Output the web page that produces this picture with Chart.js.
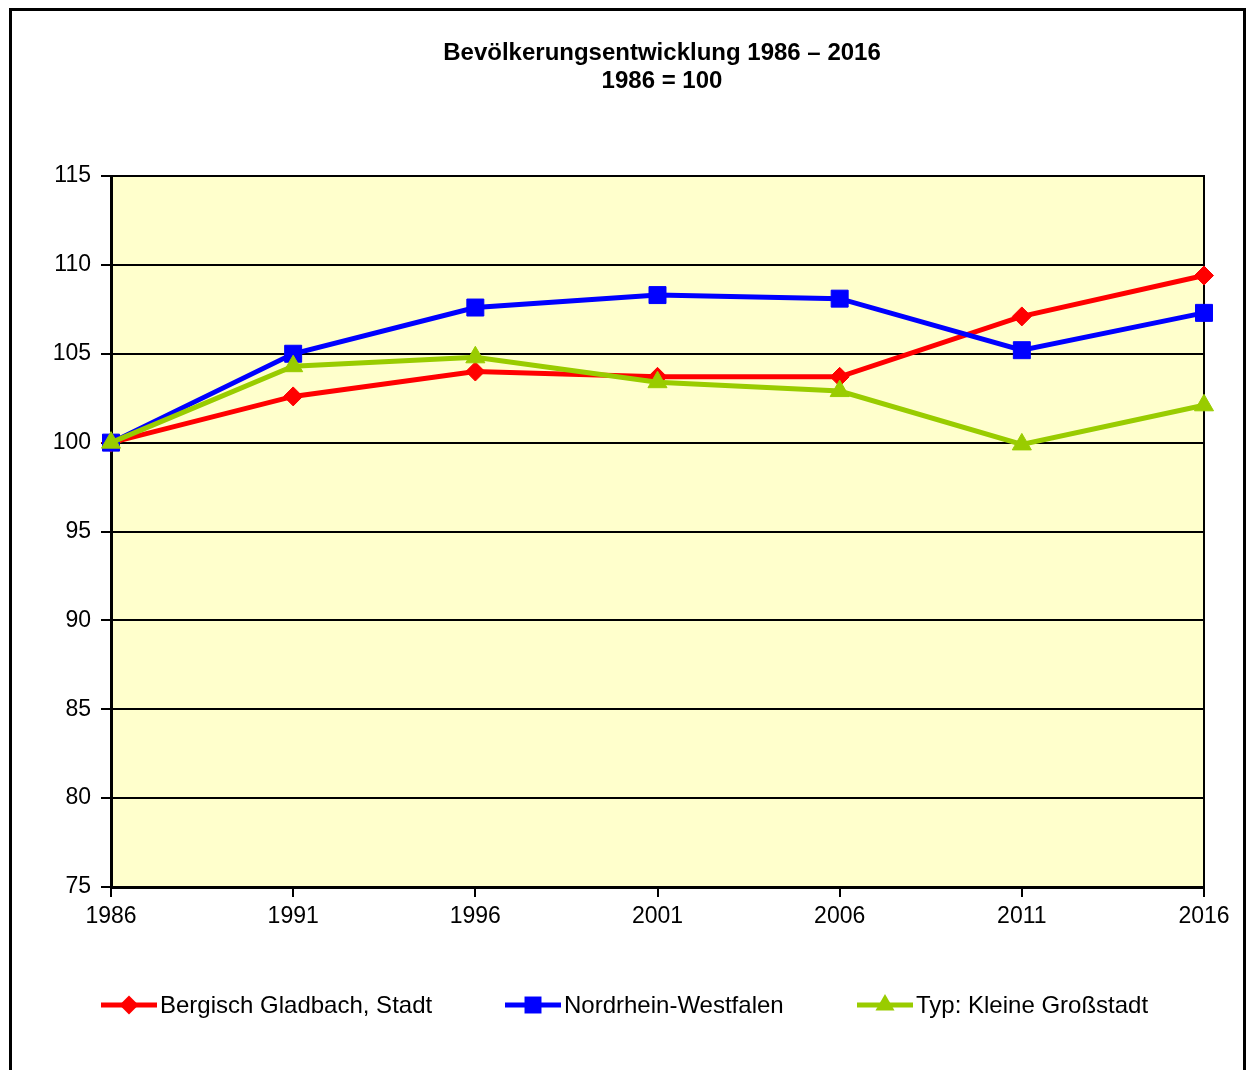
<!DOCTYPE html>
<html>
<head>
<meta charset="utf-8">
<script src="https://cdn.jsdelivr.net/npm/chart.js@4/dist/chart.umd.min.js"></script>
<style>
  html, body { margin: 0; padding: 0; background: #fff; }
  #wrap { position: relative; width: 1249px; height: 1070px; }
</style>
</head>
<body>
<div id="wrap"><canvas id="chart" width="1249" height="1070"></canvas></div>
<script>
// Daten (1986 = 100)
const years = ['1986', '1991', '1996', '2001', '2006', '2011', '2016'];
const bergischGladbach = [100, 102.6, 104.0, 103.7, 103.7, 107.1, 109.4];
const nrw = [100, 105.0, 107.6, 108.3, 108.1, 105.2, 107.3];
const kleineGrossstadt = [100, 104.3, 104.8, 103.4, 102.9, 99.9, 102.1];

const seriesNames = ['Bergisch Gladbach, Stadt', 'Nordrhein-Westfalen', 'Typ: Kleine Großstadt'];
const titleLines = ['Bevölkerungsentwicklung 1986 – 2016', '1986 = 100'];

const FONT = "'Liberation Sans', Arial, sans-serif";
const colRed = '#ff0000';
const colBlue = '#0000ff';
const colGreen = '#99cc00';

// Rahmen, Hintergrund, Titel und Legende
const decoPlugin = {
    id: 'deco',
    beforeDraw(chart) {
        const { ctx, chartArea: a } = chart;
        ctx.save();
        ctx.fillStyle = '#fff';
        ctx.fillRect(0, 0, chart.width, chart.height);
        ctx.strokeStyle = '#000';
        ctx.lineWidth = 3;
        ctx.strokeRect(10.5, 9.5, 1234, 1080);
        ctx.fillStyle = '#ffffcc';
        ctx.fillRect(a.left, a.top, a.right - a.left, a.bottom - a.top);
        ctx.restore();
    },
    beforeDatasetsDraw(chart) {
        const { ctx, chartArea: a } = chart;
        ctx.save();
        ctx.strokeStyle = '#000';
        ctx.lineWidth = 2;
        ctx.strokeRect(a.left, a.top, a.right - a.left, a.bottom - a.top);
        ctx.restore();
    },
    afterDraw(chart) {
        const ctx = chart.ctx;
        ctx.save();
        ctx.fillStyle = '#000';
        ctx.textAlign = 'center';
        ctx.textBaseline = 'middle';
        ctx.font = 'bold 24px ' + FONT;
        ctx.fillText(titleLines[0], 662, 53);
        ctx.fillText(titleLines[1], 662, 81);

        const legendX = [101, 505, 857];
        const y = 1005;
        chart.data.datasets.forEach((ds) => {
            const x0 = legendX[ds.legendIndex];
            ctx.strokeStyle = ds.borderColor;
            ctx.lineWidth = 5;
            ctx.beginPath();
            ctx.moveTo(x0, y);
            ctx.lineTo(x0 + 56, y);
            ctx.stroke();
            drawMarker(ctx, ds.pointStyle, x0 + 28, y, ds.pointRadius, ds.borderColor);
            ctx.fillStyle = '#000';
            ctx.textAlign = 'left';
            ctx.font = '24px ' + FONT;
            ctx.fillText(ds.label, x0 + 59, y + 1);
        });
        ctx.restore();
    }
};

function drawMarker(ctx, style, x, y, r, color) {
    ctx.fillStyle = color;
    ctx.beginPath();
    if (style === 'rect') {
        const s = Math.SQRT1_2 * r;
        ctx.rect(x - s, y - s, 2 * s, 2 * s);
    } else if (style === 'rectRot') {
        ctx.moveTo(x - r, y);
        ctx.lineTo(x, y - r);
        ctx.lineTo(x + r, y);
        ctx.lineTo(x, y + r);
        ctx.closePath();
    } else {
        ctx.moveTo(x, y - r);
        ctx.lineTo(x + r * 0.866, y + r / 2);
        ctx.lineTo(x - r * 0.866, y + r / 2);
        ctx.closePath();
    }
    ctx.fill();
}

function series(label, data, color, style, radius, order, legendIndex) {
    return {
        label: label,
        data: data,
        borderColor: color,
        backgroundColor: color,
        borderWidth: 5,
        pointStyle: style,
        pointRadius: radius,
        pointHoverRadius: radius,
        pointBorderWidth: 1,
        pointBackgroundColor: color,
        pointBorderColor: color,
        tension: 0,
        clip: false,
        order: order,
        legendIndex: legendIndex
    };
}

new Chart(document.getElementById('chart'), {
    type: 'line',
    data: {
        labels: years,
        datasets: [
            series(seriesNames[0], bergischGladbach, colRed, 'rectRot', 9.5, 2, 0),
            series(seriesNames[1], nrw, colBlue, 'rect', 12, 1, 1),
            series(seriesNames[2], kleineGrossstadt, colGreen, 'triangle', 11, 0, 2)
        ]
    },
    options: {
        responsive: false,
        animation: false,
        layout: { padding: { left: 0, top: 176, right: 45, bottom: 83 } },
        plugins: {
            legend: { display: false },
            title: { display: false },
            tooltip: { enabled: false }
        },
        scales: {
            x: {
                type: 'category',
                offset: false,
                grid: {
                    drawOnChartArea: false,
                    drawTicks: true,
                    tickLength: 10,
                    color: '#000',
                    lineWidth: 2
                },
                border: { display: true, color: '#000', width: 3 },
                ticks: {
                    color: '#000',
                    font: { family: FONT, size: 23 },
                    padding: 6,
                    maxRotation: 0,
                    autoSkip: false
                },
                afterFit: (s) => { s.height = 100; }
            },
            y: {
                min: 75,
                max: 115,
                grid: { color: '#000', lineWidth: 2, tickLength: 10 },
                border: { display: true, color: '#000', width: 3 },
                ticks: {
                    stepSize: 5,
                    color: '#000',
                    font: { family: FONT, size: 23 },
                    padding: 10
                },
                afterFit: (s) => { s.width = 111; }
            }
        }
    },
    plugins: [decoPlugin]
});
</script>
</body>
</html>
